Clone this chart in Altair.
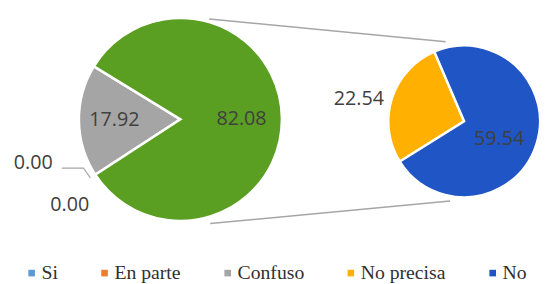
import math
import altair as alt
import pandas as pd

# ---- data ----
main_labels = ["Si", "En parte", "Confuso", "Otros"]
main_values = [0.00, 0.00, 17.92, 82.08]
sub_labels = ["No precisa", "No"]
sub_values = [22.54, 59.54]

legend_labels = ["Si", "En parte", "Confuso", "No precisa", "No"]
color_domain = ["Si", "En parte", "Confuso", "No precisa", "No", "Otros"]
color_range = ["#5B9BD5", "#ED7D31", "#A5A5A5", "#FFB000", "#1F55C4", "#5A9E22"]

# ---- geometry / style ----
W, H = 539, 276
MC = (175, 111)   # main pie centre
MR = 103
SC = (463, 113)   # secondary pie centre
SR = 77
MAIN_START = 237.0  # degrees, clockwise from 12 o'clock
SUB_START = 238.0
TXT = "#404040"
FONT = "Open Sans"


def polar(c, r, deg):
    a = math.radians(deg)
    return c[0] + r * math.sin(a), c[1] - r * math.cos(a)


main_df = pd.DataFrame({"label": main_labels, "value": main_values,
                        "idx": range(len(main_labels))})
sub_df = pd.DataFrame({"label": sub_labels, "value": sub_values,
                       "idx": range(len(sub_labels))})

color = alt.Color(
    "label:N",
    scale=alt.Scale(domain=color_domain, range=color_range),
    legend=alt.Legend(
        orient="none", legendX=14, legendY=257, direction="horizontal",
        values=legend_labels, title=None, symbolType="square", symbolSize=45,
        symbolStrokeWidth=0, labelFont="Liberation Serif", labelFontSize=20,
        labelColor="#303030", columnPadding=37, padding=0, labelOffset=0,
    ),
)


def theta(start, total):
    a = math.radians(start)
    return alt.Theta("value:Q", stack=True,
                     scale=alt.Scale(domain=[0, total], range=[a, a + 2 * math.pi], nice=False))


main_theta = theta(MAIN_START, sum(main_values))
sub_theta = theta(SUB_START, sum(sub_values))
order = alt.Order("idx:Q")

# main pie
main_base = alt.Chart(main_df)
main_arc = main_base.mark_arc(outerRadius=MR, stroke="white", strokeWidth=2.5).encode(
    theta=main_theta, color=color, order=order,
    x=alt.value(MC[0]), y=alt.value(MC[1]),
)


def label_layer(base, th, center, which, radius, dx=0, dy=0):
    return base.transform_calculate(
        lbl=f"datum.label == '{which}' ? format(datum.value, '.2f') : ''"
    ).mark_text(font=FONT, fontSize=20, color=TXT, radius=radius, dx=dx, dy=dy).encode(
        theta=th, order=order, text="lbl:N",
        x=alt.value(center[0]), y=alt.value(center[1]),
    )


main_layer = alt.layer(
    main_arc,
    label_layer(main_base, main_theta, MC, "Otros", 62),
    label_layer(main_base, main_theta, MC, "Confuso", 67),
    label_layer(main_base, main_theta, MC, "Si", MR, dx=-63, dy=-12),
    label_layer(main_base, main_theta, MC, "En parte", MR, dx=-26, dy=31),
)

# secondary pie
sub_base = alt.Chart(sub_df)
sub_arc = sub_base.mark_arc(outerRadius=SR, stroke="white", strokeWidth=2.5).encode(
    theta=sub_theta, color=color, order=order,
    x=alt.value(SC[0]), y=alt.value(SC[1]),
)
sub_layer = alt.layer(
    sub_arc,
    label_layer(sub_base, sub_theta, SC, "No precisa", 112, dx=0, dy=11),
    label_layer(sub_base, sub_theta, SC, "No", 34, dx=3, dy=8),
)

# connector lines between the pies
t1 = polar(MC, MR + 3, 16)
t2 = polar(SC, SR + 6, 347)
b1 = polar(MC, MR + 7, 164)
b2 = polar(SC, SR + 5, 190)
conn_df = pd.DataFrame({"x": [t1[0], b1[0]], "y": [t1[1], b1[1]],
                        "x2": [t2[0], b2[0]], "y2": [t2[1], b2[1]]})
connectors = alt.Chart(conn_df).mark_rule(color="#A6A6A6", strokeWidth=1.6).encode(
    x=alt.X("x:Q", scale=None), y=alt.Y("y:Q", scale=None),
    x2="x2:Q", y2="y2:Q",
)

# leader line for the zero-valued labels
edge = polar(MC, MR + 6, MAIN_START)
elbow = (edge[0] - 7, edge[1] - 10)
start = (elbow[0] - 22, elbow[1])
lead_df = pd.DataFrame({"x": [start[0], elbow[0], edge[0]],
                        "y": [start[1], elbow[1], edge[1]], "k": [0, 1, 2]})
leader = alt.Chart(lead_df).mark_line(color="#A6A6A6", strokeWidth=1.2).encode(
    x=alt.X("x:Q", scale=None), y=alt.Y("y:Q", scale=None), order="k:Q",
)

chart = alt.layer(connectors, leader, main_layer, sub_layer).resolve_scale(
    theta="independent"
).properties(
    width=W, height=H, padding=0, autosize=alt.AutoSizeParams(type="none"),
    background="white",
).configure_view(stroke=None)

chart.save("out.html", embed_options={"renderer": "svg", "actions": False})
